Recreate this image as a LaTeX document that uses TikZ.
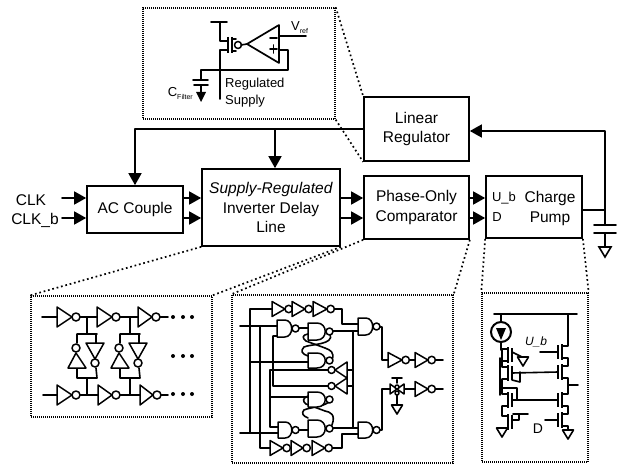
\documentclass[tikz,border=0pt]{standalone}
\usepackage{fontspec}
\setmainfont{Liberation Sans}
\usetikzlibrary{arrows.meta,calc}
\newcommand{\lblfont}{\fontsize{15.5}{19.5}\selectfont}
\newcommand{\smlfont}{\fontsize{13}{16}\selectfont}
\tikzset{
  x=1pt,y=-1pt,
  block/.style={draw=black,line width=1.7pt,fill=white,inner sep=0pt,align=center,font=\lblfont},
  label/.style={inner sep=0pt,align=center,font=\lblfont},
  small/.style={inner sep=0pt,font=\smlfont},
  inset/.style={draw=black,line width=1.4pt,dash pattern=on 1pt off 1pt,inner sep=0pt},
  zoomline/.style={draw=black,line width=1.7pt,dash pattern=on 1.7pt off 2.8pt},
  wire/.style={draw=black,line width=1.6pt,line cap=round,line join=round},
  arr/.style={wire,-{Triangle[length=12pt,width=13pt]}},
  fine/.style={draw=black,line width=1.6pt,line join=round},
  tiny/.style={draw=black,line width=1.5pt,fill=white,line join=round},
}
\newcommand{\ivh}{7.5}
\newcommand{\ivb}{3.7}
% inverter pointing right: x1, x2, y
\newcommand{\ivr}[3]{\draw[tiny] (#1,#3-\ivh) -- (#2,#3) -- (#1,#3+\ivh) -- cycle; \draw[tiny] (#2+\ivb,#3) circle (\ivb);}
% inverter pointing left: x-tip, x-base, y
\newcommand{\ivl}[3]{\draw[tiny] (#2,#3-8) -- (#1,#3) -- (#2,#3+8) -- cycle; \draw[tiny] (#1-3.5,#3) circle (3.5);}
% nand: x1,x2,y1,y2
\newcommand{\ngate}[4]{\draw[tiny] (#1,#3) -- ({#1+0.45*(#2-#1)},#3) .. controls (#2,#3) and (#2,#4) .. ({#1+0.45*(#2-#1)},#4) -- (#1,#4) -- cycle; \draw[tiny] (#2-2,{(#3+#4)/2}) ++(3.5,0) circle (3.5);}
% ground triangle: x, y-top
\newcommand{\gnd}[2]{\draw[fine,fill=white] (#1-5.5,#2) -- (#1+5.5,#2) -- (#1,#2+9) -- cycle;}
% cross-coupled pair: junction x
\newcommand{\xpair}[1]{
  \draw[wire] (#1,317) -- (#1,334) (#1-10,334) -- (#1+10,334) (#1-10,334) -- (#1-10,343) (#1+9,334) -- (#1+9,343)
    (#1-10,368) -- (#1-10,378) -- (#1+10,378) -- (#1+9,368) (#1,378) -- (#1,395);
  \draw[tiny] (#1-19,368) -- (#1-1,368) -- (#1-11,353) -- cycle;
  \draw[tiny] (#1-11,348) circle (4);
  \draw[tiny] (#1-1,343) -- (#1+17,343) -- (#1+8,359) -- cycle;
  \draw[tiny] (#1+8,363) circle (4);
}
% MOS of the pump
\newcommand{\mosl}[1]{\draw[fine] (502,#1-6) -- (508,#1-6) (508,#1+6) -- (502,#1+6); \draw[line width=1.9pt] (508,#1-8) -- (508,#1+8) (512,#1-7) -- (512,#1+7);}
\newcommand{\mosr}[1]{\draw[fine] (568,#1-6) -- (562,#1-6) (562,#1+6) -- (568,#1+6); \draw[line width=1.9pt] (562,#1-8) -- (562,#1+8) (558,#1-7) -- (558,#1+7);}
\begin{document}
\begin{tikzpicture}
\useasboundingbox (0,0) rectangle (618,465);
\fill[white] (0,0) rectangle (618,465);

% rows of signals
\coordinate (r1) at (0,198);
\coordinate (r2) at (0,218);
\coordinate (busy) at (0,129);
\coordinate (fby) at (0,131);
\coordinate (acx) at (135,0);
\coordinate (dlx) at (275,0);
\coordinate (capx) at (605,0);
\coordinate (capt) at (605,225);
\coordinate (capb) at (605,233);
\coordinate (cpo) at (0,210);
\coordinate (clkstart) at (62,0);

% insets
\node[inset,minimum width=192pt,minimum height=111pt] (insTop) at (239,63.5) {};
\node[inset,minimum width=181pt,minimum height=121pt] (insDelay) at (121.5,356.5) {};
\node[inset,minimum width=221pt,minimum height=168pt] (insCmp) at (342.5,379) {};
\node[inset,minimum width=106pt,minimum height=169pt] (insCp) at (535,377.5) {};

% blocks
\node[block,minimum width=105pt,minimum height=64pt] (lr) at (416.5,129) {Linear\\Regulator};
\node[block,minimum width=96pt,minimum height=47pt] (ac) at (135,209.5) {AC Couple};
\node[block,minimum width=138pt,minimum height=77pt] (dl) at (271,207.5) {\textit{Supply-Regulated}\\Inverter Delay\\Line};
\node[block,minimum width=105pt,minimum height=63pt] (pc) at (416.5,207.5) {Phase-Only\\Comparator};
\node[block,minimum width=96pt,minimum height=62pt] (cp) at (534,207) {};
\node[label] (charge) at (550,208.5) {Charge\\Pump};
\node[small] (ub) at (504,198) {U\_b};
\node[small] (dd) at (497,217) {D};
\node[label] (clk) at (31,200) {CLK};
\node[label] (clkb) at (35,220) {CLK\_b};

% zoom lines
\draw[zoomline] (insTop.north east) -- (lr.north west);
\draw[zoomline] (insTop.south east) -- (lr.south west);
\draw[zoomline] (dl.south west) -- (insDelay.north west);
\draw[zoomline] (dl.south east) -- (insDelay.north east);
\draw[zoomline] (pc.south west) -- (insCmp.north west);
\draw[zoomline] (pc.south east) -- (insCmp.north east);
\draw[zoomline] (cp.south west) -- (insCp.north west);
\draw[zoomline] (cp.south east) -- (insCp.north east);

% connectors
\draw[wire] (lr.west |- busy) -- (acx |- busy);
\draw[arr] (acx |- busy) -- (acx |- ac.north);
\draw[arr] (dlx |- busy) -- (dlx |- dl.north);
\draw[arr] (clkstart |- r1) -- (ac.west |- r1);
\draw[arr] (clkstart |- r2) -- (ac.west |- r2);
\draw[arr] (ac.east |- r1) -- (dl.west |- r1);
\draw[arr] (ac.east |- r2) -- (dl.west |- r2);
\draw[arr] (dl.east |- r1) -- (pc.west |- r1);
\draw[arr] (dl.east |- r2) -- (pc.west |- r2);
\draw[arr] (pc.east |- r1) -- (cp.west |- r1);
\draw[arr] (pc.east |- r2) -- (cp.west |- r2);
\draw[arr] (capt) -- (capx |- fby) -- (lr.east |- fby);
\draw[wire] (cp.east |- cpo) -- (capx |- cpo);
\draw[wire] (594,225) -- (616,225) (594,233) -- (616,233);
\draw[wire] (capb) -- (605,247);
\draw[line width=1.6pt,fill=white] (599,247) -- (611,247) -- (605,257) -- cycle;

% ---- top inset: regulator
\draw[wire] (211,22) -- (227,22) (220,22) -- (220,41) -- (228,41);
\draw[wire] (228,50) -- (220,50) -- (220,99);
\draw[line width=2pt] (228,37) -- (228,53) (232,37) -- (232,53);
\draw[wire] (232,39) -- (236,39) (232,51) -- (236,51);
\draw[tiny] (238,45) circle (3.5);
\draw[wire] (241,45) -- (247,44);
\draw[line width=1.7pt,fill=white,line join=round] (247,44) -- (279,25) -- (279,63) -- cycle;
\draw[wire] (270,38) -- (277,38) (270,49) -- (277,49) (273.5,45) -- (273.5,53);
\draw[wire] (279,36) -- (306,36);
\draw[wire] (279,50) -- (288,50) -- (288,70) -- (220,70);
\draw[wire] (220,70) -- (201,70) -- (201,80);
\draw[wire] (193,80) -- (208,80) (194,85) -- (208,85) (201,85) -- (201,92);
\fill (196,92) -- (206,92) -- (201,102) -- cycle;
\node[small,anchor=west] (vref) at (291,28) {V\raisebox{-3pt}{\fontsize{7}{8}\selectfont ref}};
\node[small,anchor=east] (cfilt) at (193,93) {C\raisebox{-3pt}{\fontsize{7}{8}\selectfont Filter}};
\node[draw=none,inner sep=0pt,align=left,font=\fontsize{13}{17}\selectfont,anchor=west] (regsup) at (225,93) {Regulated\\Supply};

% ---- left inset: delay line
\draw[wire] (42,317) -- (168,317) (43,395) -- (168,395);
\renewcommand{\ivh}{10}\renewcommand{\ivb}{4}
\ivr{57}{72}{317} \ivr{97}{112}{317} \ivr{138}{152}{317}
\ivr{57}{72}{395} \ivr{98}{112}{395} \ivr{140}{153}{395}
\xpair{87} \xpair{130}
\foreach \xx in {173,183,192} {\fill (\xx,317) circle (2); \fill (\xx,356) circle (2); \fill (\xx,394) circle (2);}
\renewcommand{\ivh}{7.5}\renewcommand{\ivb}{3.7}

% ---- middle inset: comparator
\draw[wire] (250,321) -- (250,309) -- (272,309);
\draw[wire] (240,326) -- (277,326) (240,433) -- (278,433);
\draw[wire] (250,321) -- (250,433) (260,326) -- (260,448) -- (270,448) (270,370) -- (270,427) -- (278,427);
\draw[wire] (273,336) -- (273,386) -- (330,386) (273,336) -- (277,336);
\draw[wire] (270,370) -- (330,370);
\draw[wire] (250,362) -- (308,362) (270,397) -- (308,397);
\draw[wire] (331,309) -- (342,309) -- (342,324) -- (358,324);
\draw[wire] (329,448) -- (342,448) -- (342,434) -- (358,434);
\draw[wire] (297,328) -- (308,328) (297,430) -- (308,430);
\draw[wire] (328,331) -- (358,331) (328,428) -- (358,428);
\draw[wire] (353,331) -- (353,427) (347,370) -- (353,370) (347,386) -- (353,386);
\draw[wire] (330,334) .. controls (335,345) and (310,344) .. (304,347) .. controls (300,351) and (302,354) .. (308,356);
\draw[wire] (332,360) .. controls (335,352) and (330,350) .. (325,348) -- (306,341) .. controls (302,338) and (302,335) .. (308,334);
\draw[wire] (330,397) .. controls (334,406) and (310,407) .. (304,410) .. controls (301,413) and (303,416) .. (308,418);
\draw[wire] (332,425) .. controls (336,414) and (330,412) .. (325,411) -- (306,404) .. controls (302,401) and (303,398) .. (308,396);
\draw[wire] (378,327) -- (382,327) -- (382,360) -- (388,360);
\draw[wire] (378,430) -- (382,430) -- (382,389) -- (410,389);
\draw[wire] (402,360) -- (443,360) (410,389) -- (443,389);
\ivr{272}{285}{309} \ivr{292}{305}{309} \ivr{313}{327}{309}
\ivr{270}{283}{448} \ivr{291}{303}{448} \ivr{312}{325}{448}
\ngate{277}{294}{320}{337} \ngate{278}{294}{422}{438}
\ngate{308}{328}{323}{340} \ngate{308}{328}{353}{368}
\ngate{308}{328}{392}{407} \ngate{308}{328}{420}{437}
\ngate{358}{375}{318}{335} \ngate{358}{375}{422}{438}
\ivl{335}{347}{370} \ivl{335}{347}{386}
\ivr{388}{402}{360} \ivr{415}{428}{360} \ivr{415}{428}{389}
\draw[wire] (392,378) -- (402,378) (397,378) -- (397,383) (397,395) -- (397,405);
\draw[tiny] (390,384) -- (397,389) -- (390,394) -- cycle (404,384) -- (397,389) -- (404,394) -- cycle;
\draw[tiny] (397,387) circle (2) (397,393) circle (2);
\gnd{397}{405}

% ---- right inset: charge pump
\draw[wire] (494,314) -- (577,314);
\draw[wire] (501,314) -- (501,322) (501,342) -- (501,350);
\draw[line width=2pt] (501,332) circle (10);
\fill (496,328) -- (506,328) -- (501,340) -- cycle;
\draw[wire] (568,314) -- (568,346) (568,358) -- (568,366) (568,378) -- (568,394) (568,406) -- (568,414) (568,426) -- (568,431);
\draw[wire] (568,385) -- (578,385);
\mosr{352} \mosr{372} \mosr{400} \mosr{420}
\draw[wire] (540,352) -- (558,352) (545,420) -- (558,420);
\draw[wire] (502,350) -- (502,367) (502,379) -- (502,394) (502,406) -- (502,416);
\draw[wire] (500,358) -- (500,395);
\mosl{355} \mosl{373} \mosl{400} \mosl{422}
\draw[wire] (512,352) -- (522,357);
\draw[wire] (512,373) -- (558,372);
\draw[wire] (512,400) -- (558,400);
\draw[wire] (512,380) -- (520,382) -- (520,372);
\draw[wire] (502,388) -- (517,388) -- (517,400);
\draw[wire] (513,414) -- (528,414) (519,414) -- (519,420) -- (512,420);
\gnd{523}{357}
\gnd{502}{428}
\gnd{568}{430}
\node[small,font=\fontsize{12}{14}\selectfont\itshape] (ub2) at (536,342) {U\_b};
\node[small,font=\fontsize{14}{16}\selectfont] (d2) at (538,429) {D};
\end{tikzpicture}
\end{document}
